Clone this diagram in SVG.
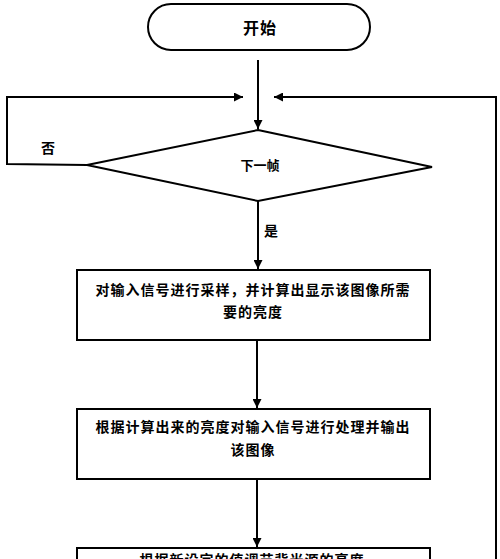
<svg xmlns="http://www.w3.org/2000/svg" width="500" height="559" viewBox="0 0 500 559">
<defs>
<marker id="ah" viewBox="0 0 10 10" refX="10" refY="5" markerWidth="9" markerHeight="9" markerUnits="userSpaceOnUse" orient="auto">
<path d="M0,0 L10,5 L0,10 Z" fill="#000"/>
</marker>
<style>
.s{fill:#fff;stroke:#000;stroke-width:2}
.l{fill:none;stroke:#000;stroke-width:2}
.t{font-family:"Noto Sans CJK SC","Noto Sans",sans-serif;font-weight:bold;fill:#000;text-anchor:middle}
.b{font-size:14px;letter-spacing:1px}
</style>
</defs>
<rect width="500" height="559" fill="#fff"/>
<g id="connectors">
<line class="l" x1="258" y1="60" x2="258" y2="129" marker-end="url(#ah)"/>
<polyline class="l" points="87,165 7,164 7,97 243,97" marker-end="url(#ah)"/>
<polyline class="l" points="496,570 496,97 274,97" marker-end="url(#ah)"/>
<line class="l" x1="258" y1="201" x2="258" y2="269" marker-end="url(#ah)"/>
<line class="l" x1="257" y1="340" x2="257" y2="408" marker-end="url(#ah)"/>
<line class="l" x1="257" y1="479" x2="257" y2="547" marker-end="url(#ah)"/>
<text class="t" x="48" y="153" font-size="14">否</text>
<text class="t" x="271" y="236" font-size="14">是</text>
</g>
<g id="start">
<rect class="s" x="148" y="4" width="222" height="46" rx="23"/>
<text class="t" x="260" y="34" font-size="16" letter-spacing="1">开始</text>
</g>
<g id="decision">
<polygon class="s" points="258,130 432,167 258,201 87,165"/>
<text class="t" x="260" y="170" font-size="13">下一帧</text>
</g>
<g id="box1">
<rect class="s" x="77" y="270" width="353" height="70"/>
<text class="t b" x="253" y="295">对输入信号进行采样，并计算出显示该图像所需</text>
<text class="t b" x="253" y="317">要的亮度</text>
</g>
<g id="box2">
<rect class="s" x="77" y="409" width="353" height="70"/>
<text class="t b" x="253" y="432">根据计算出来的亮度对输入信号进行处理并输出</text>
<text class="t b" x="253" y="455">该图像</text>
</g>
<g id="box3">
<rect class="s" x="77" y="548" width="353" height="40"/>
<text class="t b" x="252" y="565">根据新设定的值调节背光源的亮度</text>
</g>
</svg>
